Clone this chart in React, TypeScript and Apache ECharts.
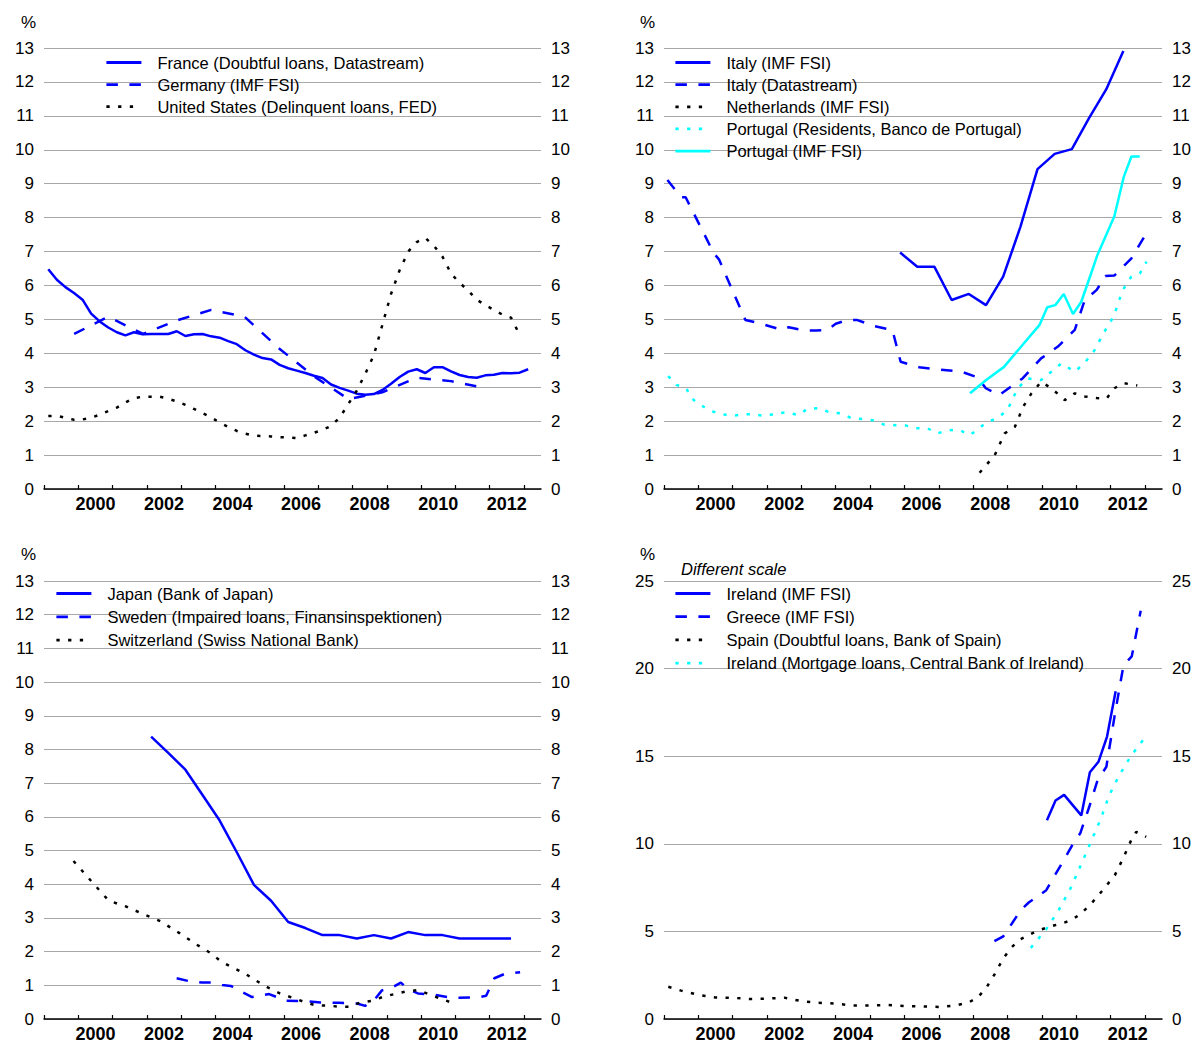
import React, { useEffect, useRef } from "react";
import * as echarts from "echarts";

const FONT = "'Liberation Sans', Arial, Helvetica, sans-serif";
const BLUE = "#0000ff";
const CYAN = "#00ffff";
const BLACK = "#000000";

// Axis ticks and labels (years)
const xTickYears = [1999, 2000, 2001, 2002, 2003, 2004, 2005, 2006, 2007, 2008, 2009, 2010, 2011, 2012, 2013];
const xLabelYears = [2000, 2002, 2004, 2006, 2008, 2010, 2012];

const quarters = (start: number, n: number) => Array.from({ length: n }, (_, i) => start + i * 0.25);

// ---------- Panel 1 ----------
const franceX = quarters(1999.125, 57);
const franceV = [
  6.48, 6.17, 5.95, 5.78, 5.58, 5.17, 4.94, 4.76, 4.62, 4.53, 4.62, 4.56, 4.57, 4.57, 4.57, 4.65,
  4.51, 4.56, 4.57, 4.5, 4.46, 4.36, 4.27, 4.09, 3.96, 3.86, 3.82, 3.66, 3.56, 3.49, 3.42, 3.34,
  3.27, 3.08, 2.98, 2.9, 2.81, 2.78, 2.8, 2.92, 3.1, 3.3, 3.46, 3.53, 3.42, 3.59, 3.59, 3.47,
  3.36, 3.3, 3.28, 3.35, 3.37, 3.42, 3.41, 3.43, 3.53,
];
const germanyX = [1999.88, 2000.87, 2001.89, 2002.91, 2003.88, 2004.85, 2005.85, 2006.88, 2007.88, 2008.87, 2009.87, 2010.87, 2011.87];
const germanyV = [4.57, 5.08, 4.57, 4.98, 5.28, 5.08, 4.15, 3.32, 2.65, 2.85, 3.28, 3.18, 2.98];
const usX = quarters(1999.125, 56);
const usV = [
  2.15, 2.16, 2.1, 2.04, 2.05, 2.1, 2.19, 2.3, 2.4, 2.55, 2.68, 2.72, 2.72, 2.72, 2.66, 2.58,
  2.48, 2.36, 2.24, 2.11, 1.96, 1.83, 1.71, 1.63, 1.57, 1.56, 1.55, 1.53, 1.52, 1.5, 1.58, 1.66,
  1.74, 1.86, 2.1, 2.5, 2.9, 3.4, 3.95, 4.85, 5.75, 6.45, 7.0, 7.28, 7.4, 7.17, 6.85, 6.35,
  6.08, 5.85, 5.58, 5.42, 5.28, 5.14, 5.05, 4.55,
];

// ---------- Panel 2 ----------
const italyImfX = [2005.875, 2006.375, 2006.875, 2007.375, 2007.875, 2008.375, 2008.875, 2009.375, 2009.875, 2010.375, 2010.875, 2011.375, 2011.875, 2012.375];
const italyImfV = [6.97, 6.55, 6.55, 5.57, 5.75, 5.42, 6.26, 7.72, 9.43, 9.88, 10.02, 10.93, 11.78, 12.91];
const italyDsX = [
  1999.1, 1999.5, 1999.63, 2000.45, 2000.6, 2001.37, 2001.81, 2002.1, 2002.43, 2002.63, 2003.1, 2003.44,
  2003.76, 2004.0, 2004.33, 2004.63, 2005.12, 2005.65, 2005.89, 2006.43, 2007.0, 2007.66, 2008.13, 2008.37,
  2008.76, 2009.44, 2009.98, 2010.47, 2010.96, 2011.25, 2011.6, 2011.85, 2012.11, 2012.61, 2013.02,
];
const italyDsV = [
  9.11, 8.6, 8.6, 6.95, 6.77, 4.98, 4.88, 4.79, 4.69, 4.77, 4.67, 4.67,
  4.69, 4.87, 4.98, 4.98, 4.8, 4.69, 3.75, 3.59, 3.52, 3.46, 3.29, 2.97,
  2.77, 3.26, 3.85, 4.2, 4.69, 5.57, 5.87, 6.28, 6.29, 6.8, 7.5,
];
const netherlandsX = [2008.19, 2008.63, 2008.92, 2009.22, 2009.46, 2009.7, 2009.98, 2010.28, 2010.67, 2010.96, 2011.25, 2011.6, 2011.89, 2012.11, 2012.39, 2012.78];
const netherlandsV = [0.48, 1.0, 1.64, 1.84, 2.43, 2.82, 3.16, 2.97, 2.62, 2.82, 2.73, 2.68, 2.67, 2.97, 3.12, 3.05];
const portugalResX = [
  1999.12, 1999.36, 1999.65, 1999.8, 2000.04, 2000.33, 2000.68, 2000.97, 2001.27, 2001.6, 2001.96, 2002.27,
  2002.59, 2002.91, 2003.17, 2003.51, 2003.82, 2004.14, 2004.48, 2004.79, 2005.1, 2005.4, 2006.04, 2006.38,
  2006.67, 2006.96, 2007.3, 2007.64, 2007.91, 2008.37, 2008.76, 2009.0, 2009.3, 2009.59, 2009.98, 2010.28,
  2010.57, 2010.96, 2011.25, 2011.54, 2011.8, 2012.1, 2012.35, 2012.6, 2012.85, 2013.05,
];
const portugalResV = [
  3.33, 3.07, 2.97, 2.67, 2.5, 2.31, 2.21, 2.15, 2.2, 2.2, 2.15, 2.23,
  2.26, 2.18, 2.36, 2.38, 2.26, 2.23, 2.08, 2.06, 2.02, 1.9, 1.87, 1.79,
  1.79, 1.64, 1.74, 1.72, 1.59, 1.94, 2.13, 2.33, 2.97, 3.26, 3.21, 3.46,
  3.7, 3.46, 3.72, 4.1, 4.6, 5.1, 5.85, 6.25, 6.35, 6.7,
];
const portugalImfX = [2007.91, 2008.4, 2008.9, 2009.4, 2009.93, 2010.16, 2010.39, 2010.64, 2010.91, 2011.15, 2011.4, 2011.62, 2012.11, 2012.39, 2012.61, 2012.85];
const portugalImfV = [2.82, 3.23, 3.6, 4.2, 4.83, 5.36, 5.42, 5.75, 5.16, 5.52, 6.25, 6.9, 8.03, 9.21, 9.8, 9.8];

// ---------- Panel 3 ----------
const japanX = [2002.125, 2002.625, 2003.125, 2003.625, 2004.125, 2004.625, 2005.125, 2005.625, 2006.125, 2006.625, 2007.125, 2007.625, 2008.125, 2008.625, 2009.125, 2009.625, 2010.125, 2010.625, 2011.125, 2011.625, 2012.125, 2012.625];
const japanV = [8.38, 7.9, 7.4, 6.65, 5.89, 4.95, 3.98, 3.51, 2.88, 2.7, 2.49, 2.49, 2.39, 2.49, 2.39, 2.58, 2.49, 2.49, 2.39, 2.39, 2.39, 2.39];
const swedenX = [
  2002.87, 2003.2, 2003.6, 2003.87, 2004.2, 2004.45, 2005.07, 2005.57, 2006.07, 2006.6, 2007.07, 2007.6, 2008.13,
  2008.37, 2008.63, 2008.86, 2009.13, 2009.41, 2009.63, 2009.91, 2010.4, 2010.86, 2011.64, 2011.9, 2012.14, 2012.42, 2012.89,
];
const swedenV = [
  1.21, 1.13, 1.08, 1.08, 1.01, 0.98, 0.65, 0.74, 0.54, 0.53, 0.49, 0.48, 0.46,
  0.39, 0.56, 0.85, 0.92, 1.08, 0.88, 0.76, 0.72, 0.63, 0.64, 0.69, 1.21, 1.33, 1.39,
];
const switzerlandX = [
  1999.86, 2000.39, 2000.89, 2001.39, 2001.95, 2002.4, 2002.95, 2003.45, 2003.84, 2004.18, 2004.52, 2004.86, 2005.2,
  2005.54, 2005.88, 2006.22, 2006.56, 2006.9, 2007.25, 2007.58, 2007.92, 2008.22, 2008.56, 2008.9, 2009.23, 2009.58,
  2009.92, 2010.26, 2010.6, 2010.89,
];
const switzerlandV = [
  4.69, 4.08, 3.51, 3.34, 3.09, 2.9, 2.55, 2.21, 1.97, 1.7, 1.52, 1.35, 1.13,
  0.93, 0.76, 0.64, 0.52, 0.41, 0.4, 0.37, 0.36, 0.49, 0.54, 0.66, 0.74, 0.82,
  0.86, 0.72, 0.59, 0.49,
];

// ---------- Panel 4 ----------
const irelandImfX = [2010.15, 2010.4, 2010.65, 2011.15, 2011.4, 2011.65, 2011.9, 2012.15];
const irelandImfV = [11.34, 12.47, 12.79, 11.62, 14.08, 14.68, 16.12, 18.71];
const greeceX = [2008.62, 2008.88, 2009.13, 2009.38, 2009.62, 2009.88, 2010.13, 2010.38, 2010.62, 2010.88, 2011.12, 2011.38, 2011.62, 2011.88, 2012.12, 2012.38, 2012.62, 2012.88];
const greeceV = [4.44, 4.72, 5.45, 6.2, 6.65, 7.0, 7.35, 8.2, 9.0, 9.9, 10.6, 12.1, 13.6, 14.4, 17.3, 20.2, 20.7, 23.3];
const spainX = [
  1999.125, 1999.5, 2000.0, 2000.5, 2001.0, 2001.5, 2002.0, 2002.5, 2003.0, 2003.5, 2004.0, 2004.5, 2005.0,
  2005.5, 2006.0, 2006.5, 2007.0, 2007.5, 2007.875, 2008.125, 2008.375, 2008.625, 2008.875, 2009.125, 2009.375,
  2009.625, 2009.875, 2010.125, 2010.375, 2010.625, 2010.875, 2011.125, 2011.375, 2011.625, 2011.875, 2012.125,
  2012.375, 2012.625, 2012.75, 2013.04,
];
const spainV = [
  1.84, 1.62, 1.38, 1.23, 1.21, 1.14, 1.16, 1.22, 1.02, 0.93, 0.88, 0.77, 0.77,
  0.8, 0.74, 0.72, 0.69, 0.77, 0.95, 1.22, 1.75, 2.55, 3.45, 4.1, 4.55,
  4.8, 5.05, 5.2, 5.35, 5.48, 5.65, 6.0, 6.45, 7.0, 7.6, 8.2,
  9.2, 10.3, 10.68, 10.4,
];
const irelandMortX = [2009.68, 2010.12, 2010.5, 2010.84, 2011.18, 2011.47, 2011.72, 2011.96, 2012.25, 2012.6, 2013.04];
const irelandMortV = [4.06, 5.1, 6.24, 7.47, 8.98, 10.3, 11.43, 12.76, 13.89, 15.02, 16.16];

type Kind = "solid" | "dash" | "dot";

function lineSeries(name: string, xs: number[], vs: number[], panel: number, color: string, kind: Kind) {
  const type = kind === "solid" ? "solid" : kind === "dash" ? [11.5, 11.5] : [3.3, 8.4];
  return {
    type: "line",
    name,
    xAxisIndex: panel,
    yAxisIndex: panel * 2,
    data: xs.map((x, i) => [x, vs[i]]),
    symbol: "none",
    showSymbol: false,
    silent: true,
    emphasis: { disabled: true },
    lineStyle: { color, width: 2.5, type, cap: "butt" },
    itemStyle: { color },
  };
}

const grids = [
  { left: 44, top: 48, width: 497, height: 441 },
  { left: 664, top: 48, width: 498, height: 441 },
  { left: 44, top: 581, width: 497, height: 441 },
  { left: 664, top: 581, width: 498, height: 441 },
];

function xAxis(i: number) {
  return {
    type: "value",
    gridIndex: i,
    min: 1999,
    max: 2013.5,
    axisLine: { show: true, onZero: false, lineStyle: { color: "#000", width: 1.5 } },
    axisTick: { show: true, inside: true, length: 4, customValues: xTickYears, lineStyle: { color: "#000", width: 1.2 } },
    axisLabel: {
      customValues: xLabelYears.map((y) => y + 0.5),
      formatter: (v: number) => String(Math.floor(v)),
      fontWeight: "bold",
      fontSize: 18,
      color: "#000",
      fontFamily: FONT,
      margin: 6,
    },
    splitLine: { show: false },
  };
}

function yAxes(i: number, max: number, interval: number) {
  const common = {
    type: "value",
    gridIndex: i,
    min: 0,
    max,
    interval,
    axisLine: { show: false },
    axisTick: { show: false },
  };
  return [
    {
      ...common,
      position: "left",
      axisLabel: { fontSize: 17, color: "#000", fontFamily: FONT, margin: 10 },
      splitLine: { show: true, lineStyle: { color: "#a8a8a8", width: 1.2 } },
    },
    {
      ...common,
      position: "right",
      axisLabel: { fontSize: 17, color: "#000", fontFamily: FONT, margin: 10 },
      splitLine: { show: false },
    },
  ];
}

function legend(left: number, top: number, names: string[], gap: number) {
  return {
    left,
    top,
    orient: "vertical",
    padding: 0,
    itemWidth: 35,
    itemHeight: 14,
    itemGap: gap,
    selectedMode: false,
    data: names,
    itemStyle: { opacity: 0 },
    lineStyle: { width: 2.8 },
    textStyle: { fontSize: 16.5, color: "#000", fontFamily: FONT, lineHeight: 14, padding: [0, 0, 0, 11] },
  };
}

export default function App() {
  const ref = useRef<HTMLDivElement>(null);
  useEffect(() => {
    document.body.style.margin = "0";
    if (!ref.current) return;
    const chart = echarts.init(ref.current, null, { renderer: "svg" });
    const series = [
      lineSeries("France (Doubtful loans, Datastream)", franceX, franceV, 0, BLUE, "solid"),
      lineSeries("Germany (IMF FSI)", germanyX, germanyV, 0, BLUE, "dash"),
      lineSeries("United States (Delinquent loans, FED)", usX, usV, 0, BLACK, "dot"),
      lineSeries("Italy (IMF FSI)", italyImfX, italyImfV, 1, BLUE, "solid"),
      lineSeries("Italy (Datastream)", italyDsX, italyDsV, 1, BLUE, "dash"),
      lineSeries("Netherlands (IMF FSI)", netherlandsX, netherlandsV, 1, BLACK, "dot"),
      lineSeries("Portugal (Residents, Banco de Portugal)", portugalResX, portugalResV, 1, CYAN, "dot"),
      lineSeries("Portugal (IMF FSI)", portugalImfX, portugalImfV, 1, CYAN, "solid"),
      lineSeries("Japan (Bank of Japan)", japanX, japanV, 2, BLUE, "solid"),
      lineSeries("Sweden (Impaired loans, Finansinspektionen)", swedenX, swedenV, 2, BLUE, "dash"),
      lineSeries("Switzerland (Swiss National Bank)", switzerlandX, switzerlandV, 2, BLACK, "dot"),
      lineSeries("Ireland (IMF FSI)", irelandImfX, irelandImfV, 3, BLUE, "solid"),
      lineSeries("Greece (IMF FSI)", greeceX, greeceV, 3, BLUE, "dash"),
      lineSeries("Spain (Doubtful loans, Bank of Spain)", spainX, spainV, 3, BLACK, "dot"),
      lineSeries("Ireland (Mortgage loans, Central Bank of Ireland)", irelandMortX, irelandMortV, 3, CYAN, "dot"),
    ];
    const option = {
      animation: false,
      backgroundColor: "#ffffff",
      textStyle: { fontFamily: FONT },
      grid: grids,
      xAxis: [xAxis(0), xAxis(1), xAxis(2), xAxis(3)],
      yAxis: [...yAxes(0, 13, 1), ...yAxes(1, 13, 1), ...yAxes(2, 13, 1), ...yAxes(3, 25, 5)],
      legend: [
        legend(105, 54, ["France (Doubtful loans, Datastream)", "Germany (IMF FSI)", "United States (Delinquent loans, FED)"], 5.1),
        legend(674, 54, ["Italy (IMF FSI)", "Italy (Datastream)", "Netherlands (IMF FSI)", "Portugal (Residents, Banco de Portugal)", "Portugal (IMF FSI)"], 5.15),
        legend(55, 585, ["Japan (Bank of Japan)", "Sweden (Impaired loans, Finansinspektionen)", "Switzerland (Swiss National Bank)"], 6.3),
        legend(674, 585, ["Ireland (IMF FSI)", "Greece (IMF FSI)", "Spain (Doubtful loans, Bank of Spain)", "Ireland (Mortgage loans, Central Bank of Ireland)"], 6.2),
      ],
      graphic: [
        { type: "text", left: 21, top: 14, style: { text: "%", fontSize: 17, fill: "#000", fontFamily: FONT } },
        { type: "text", left: 640, top: 14, style: { text: "%", fontSize: 17, fill: "#000", fontFamily: FONT } },
        { type: "text", left: 21, top: 546, style: { text: "%", fontSize: 17, fill: "#000", fontFamily: FONT } },
        { type: "text", left: 640, top: 546, style: { text: "%", fontSize: 17, fill: "#000", fontFamily: FONT } },
        { type: "text", left: 681, top: 560, style: { text: "Different scale", fontSize: 16.5, fontStyle: "italic", fill: "#000", fontFamily: FONT } },
      ],
      series,
    };
    chart.setOption(option as any);
    return () => chart.dispose();
  }, []);
  return <div ref={ref} style={{ width: 1196, height: 1043 }} />;
}
